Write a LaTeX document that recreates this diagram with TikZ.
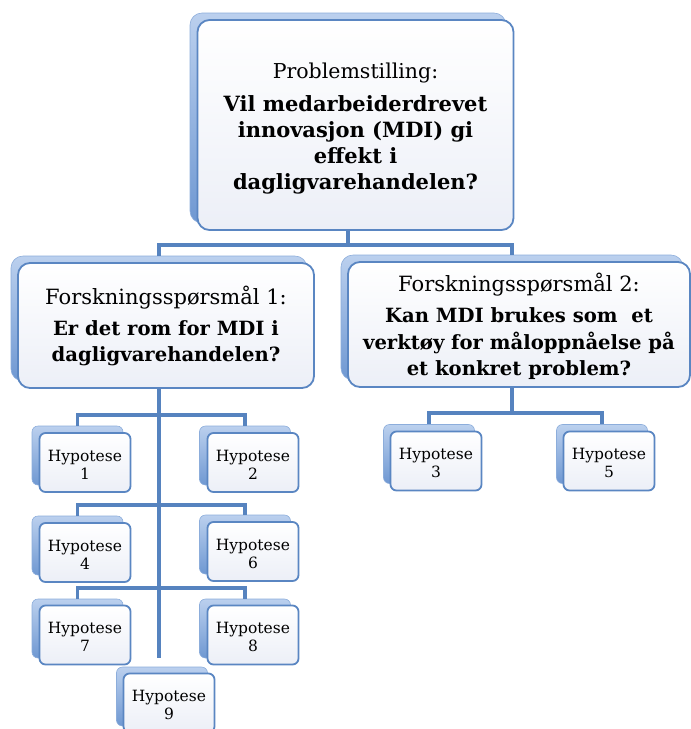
\documentclass[tikz,border=0pt]{standalone}
\usepackage{fontspec}
\setmainfont{DejaVu Serif}
\usetikzlibrary{calc}
\definecolor{bord}{HTML}{5A86C2}
\definecolor{connc}{HTML}{5683BF}
\definecolor{backtop}{HTML}{BBD0EE}
\definecolor{backbot}{HTML}{6F98D2}
\definecolor{frontbot}{HTML}{ECEFF7}
\newcommand\mybigbf{\fontsize{21}{26}\selectfont\bfseries}
\newcommand\myfsbf{\fontsize{19.6}{26.5}\selectfont\bfseries}
\tikzset{
  frontbox/.style={draw=bord, line width=1.8pt, rounded corners=#1, top color=white, bottom color=frontbot, inner sep=0pt},
  backbox/.style={draw=backbot!80!white, line width=0.6pt, rounded corners=#1, top color=backtop, bottom color=backbot},
  connline/.style={draw=connc, line width=3.8pt, line cap=butt},
  boxtext/.style={align=center, inner sep=0pt, text=black},
  bigtext/.style={boxtext, font=\fontsize{20.5}{26}\selectfont},
  fstext/.style={boxtext, font=\fontsize{21}{26.5}\selectfont},
  hyptext/.style={boxtext, font=\fontsize{15.5}{18}\selectfont},
  topsz/.style={minimum width=316pt, minimum height=210pt},
  fsonesz/.style={minimum width=296pt, minimum height=125pt},
  fstwosz/.style={minimum width=342pt, minimum height=125pt},
  hypsz/.style={minimum width=91pt, minimum height=59pt}
}
\begin{document}
\begin{tikzpicture}[x=1pt,y=-1pt]
\useasboundingbox (0,0) rectangle (691,729);
% back boxes
\node[backbox=12pt, topsz] (topb) at (348,118) {};
\node[backbox=12pt, fsonesz] (fsoneb) at (159,318.5) {};
\node[backbox=12pt, fstwosz] (fstwob) at (512,317.5) {};
\node[backbox=6pt, hypsz] (honeb) at (77.5,455.5) {};
\node[backbox=6pt, hypsz] (htwob) at (245,455.5) {};
\node[backbox=6pt, hypsz] (hfourb) at (77.5,545.5) {};
\node[backbox=6pt, hypsz] (hsixb) at (245,544.5) {};
\node[backbox=6pt, hypsz] (hsevenb) at (77.5,628.5) {};
\node[backbox=6pt, hypsz] (heightb) at (245,628.5) {};
\node[backbox=6pt, hypsz] (hnineb) at (162,696.5) {};
\node[backbox=6pt, hypsz] (hthreeb) at (429,454) {};
\node[backbox=6pt, hypsz] (hfiveb) at (602,454) {};
% connectors
\path (fsoneb.south) ++(0,277) coordinate (trunkend);
\draw[connline] (topb.south) -- ++(0,22) -| (fsoneb.north);
\draw[connline] (topb.south) ++(0,22) -| (fstwob.north);
\draw[connline] (fsoneb.south) -- (trunkend);
\draw[connline] (honeb.north) -- ++(0,-11) -| (htwob.north);
\draw[connline] (hfourb.north) -- ++(0,-11) -| (hsixb.north);
\draw[connline] (hsevenb.north) -- ++(0,-11) -| (heightb.north);
\draw[connline] (fstwob.south) -- ++(0,33) -| (hthreeb.north);
\draw[connline] (fstwob.south) ++(0,33) -| (hfiveb.north);
% front boxes
\node[frontbox=12pt, topsz] (top) at (355.5,125) {};
\node[frontbox=12pt, fsonesz] (fsone) at (166,325.5) {};
\node[frontbox=12pt, fstwosz] (fstwo) at (519,324.5) {};
\node[frontbox=6pt, hypsz] (hone) at (85,462.5) {};
\node[frontbox=6pt, hypsz] (htwo) at (253,462.5) {};
\node[frontbox=6pt, hypsz] (hfour) at (85,552.5) {};
\node[frontbox=6pt, hypsz] (hsix) at (253,551.5) {};
\node[frontbox=6pt, hypsz] (hseven) at (85,635) {};
\node[frontbox=6pt, hypsz] (height) at (253,635) {};
\node[frontbox=6pt, hypsz] (hnine) at (169,703) {};
\node[frontbox=6pt, hypsz] (hthree) at (436,461) {};
\node[frontbox=6pt, hypsz] (hfive) at (609,461) {};
% texts
\node[bigtext] (toptxt) at ($(top.center)+(0,3.5)$)
  {Problemstilling:\\[7pt]{\mybigbf Vil medarbeiderdrevet}\\{\mybigbf innovasjon (MDI) gi}\\{\mybigbf effekt i}\\{\mybigbf dagligvarehandelen?}};
\node[fstext] (fsonetxt) at ($(fsone.center)+(0,0.5)$)
  {Forskningsspørsmål 1:\\[4pt]{\myfsbf Er det rom for MDI i}\\{\myfsbf dagligvarehandelen?}};
\node[fstext] (fstwotxt) at ($(fstwo.center)+(0,2)$)
  {Forskningsspørsmål 2:\\[5pt]{\myfsbf Kan MDI brukes som\ \ et}\\{\myfsbf verktøy for måloppnåelse på}\\{\myfsbf et konkret problem?}};
\node[hyptext] (honetxt) at ($(hone.center)+(0,2)$) {Hypotese\\1};
\node[hyptext] (htwotxt) at ($(htwo.center)+(0,2)$) {Hypotese\\2};
\node[hyptext] (hfourtxt) at ($(hfour.center)+(0,2)$) {Hypotese\\4};
\node[hyptext] (hsixtxt) at ($(hsix.center)+(0,2)$) {Hypotese\\6};
\node[hyptext] (hseventxt) at ($(hseven.center)+(0,2)$) {Hypotese\\7};
\node[hyptext] (heighttxt) at ($(height.center)+(0,2)$) {Hypotese\\8};
\node[hyptext] (hninetxt) at ($(hnine.center)+(0,2)$) {Hypotese\\9};
\node[hyptext] (hthreetxt) at ($(hthree.center)+(0,2)$) {Hypotese\\3};
\node[hyptext] (hfivetxt) at ($(hfive.center)+(0,2)$) {Hypotese\\5};
\end{tikzpicture}
\end{document}
